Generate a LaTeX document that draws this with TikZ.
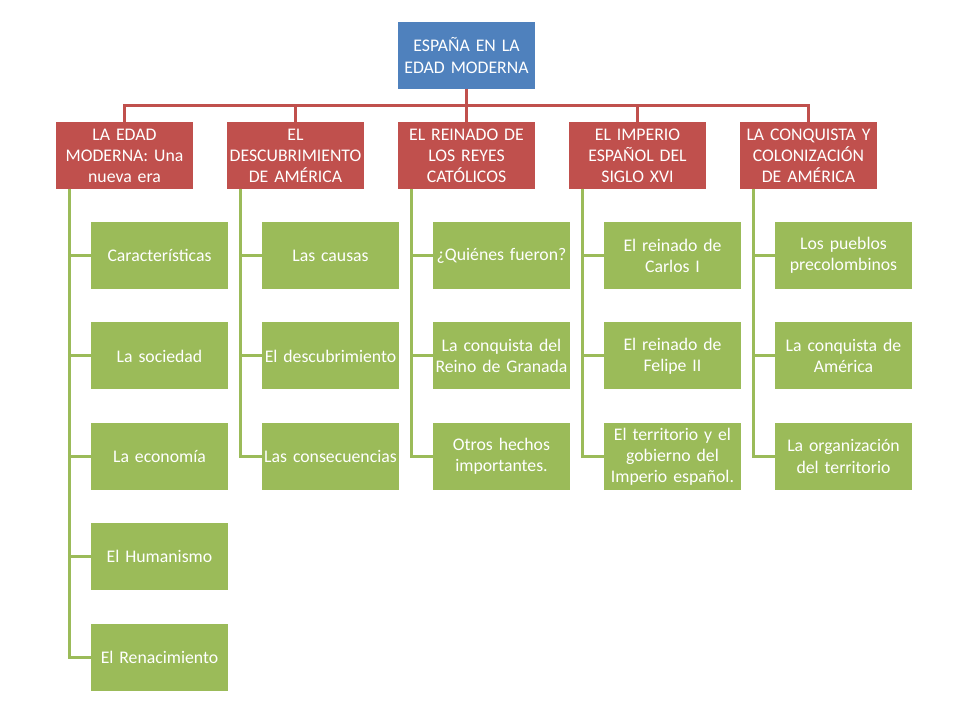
\documentclass[tikz,border=0pt]{standalone}
\usepackage{fontspec}
\setmainfont{Carlito}
\usepackage{xcolor}
\usepackage{tikz}
\usetikzlibrary{positioning}
\definecolor{rootblue}{RGB}{79,129,189}
\definecolor{topicred}{RGB}{192,80,77}
\definecolor{leafgreen}{RGB}{155,187,89}
\tikzset{
    box/.style={rectangle, text=white, text width=100pt, inner xsep=1.375pt, outer sep=0pt, align=center, minimum height=50.25pt, font=\fontsize{13.3}{15.8}\selectfont},
    rootbox/.style={box, fill=rootblue},
    topic/.style={box, fill=topicred},
    leaf/.style={box, fill=leafgreen},
    redline/.style={draw=topicred, line width=2.25pt},
    greenline/.style={draw=leafgreen, line width=2.25pt}
}

\begin{document}
\begin{tikzpicture}[x=0.75pt, y=-0.75pt, node distance=25.1pt]
    \useasboundingbox (0,0) rectangle (960,720);
    \node[rootbox] (espana) at (466.5,55.5) {ESPAÑA EN LA\\EDAD MODERNA};

    \node[topic] (edad) at (124.5,155.5) {LA EDAD\\MODERNA: Una\\nueva era};
    \node[topic, right=25.5pt of edad] (descub) {EL\\DESCUBRIMIENTO\\DE AMÉRICA};
    \node[topic, right=25.5pt of descub] (reyes) {EL REINADO DE\\LOS REYES\\CATÓLICOS};
    \node[topic, right=25.5pt of reyes] (imperio) {EL IMPERIO\\ESPAÑOL DEL\\SIGLO XVI};
    \node[topic, right=25.5pt of imperio] (conquista) {LA CONQUISTA Y\\COLONIZACIÓN\\DE AMÉRICA};

    % primera columna
    \node[leaf, below=24.75pt of edad, xshift=26.25pt] (carac) {Características};
    \node[leaf, below=of carac] (sociedad) {La sociedad};
    \node[leaf, below=of sociedad] (economia) {La economía};
    \node[leaf, below=of economia] (humanismo) {El Humanismo};
    \node[leaf, below=of humanismo] (renac) {El Renacimiento};

    \node[leaf, below=24.75pt of descub, xshift=26.25pt] (causas) {Las causas};
    \node[leaf, below=of causas] (descubr) {El descubrimiento};
    \node[leaf, below=of descubr] (consec) {Las consecuencias};

    \node[leaf, below=24.75pt of reyes, xshift=26.25pt] (quienes) {¿Quiénes fueron?};
    \node[leaf, below=of quienes] (granada) {La conquista del\\Reino de Granada};
    \node[leaf, below=of granada] (otros) {Otros hechos\\importantes.};

    \node[leaf, below=24.75pt of imperio, xshift=26.25pt] (carlos) {El reinado de\\Carlos I};
    \node[leaf, below=of carlos] (felipe) {El reinado de\\Felipe II};
    \node[leaf, below=of felipe] (territorio) {El territorio y el\\gobierno del\\Imperio español.};

    \node[leaf, below=24.75pt of conquista, xshift=26.25pt] (pueblos) {Los pueblos\\precolombinos};
    \node[leaf, below=of pueblos] (conqam) {La conquista de\\América};
    \node[leaf, below=of conqam] (organiz) {La organización\\del territorio};

    % conectores
    \foreach \t in {edad,descub,reyes,imperio,conquista}
        \draw[redline] (espana.south) -- ++(0,-12.4pt) -| (\t.north);

    \foreach \p/\l in {edad/carac,edad/sociedad,edad/economia,edad/humanismo,edad/renac,
                       descub/causas,descub/descubr,descub/consec,
                       reyes/quienes,reyes/granada,reyes/otros,
                       imperio/carlos,imperio/felipe,imperio/territorio,
                       conquista/pueblos,conquista/conqam,conquista/organiz}
        \draw[greenline] (\p.south west) ++(9.75pt,0) |- (\l.west);
\end{tikzpicture}
\end{document}
